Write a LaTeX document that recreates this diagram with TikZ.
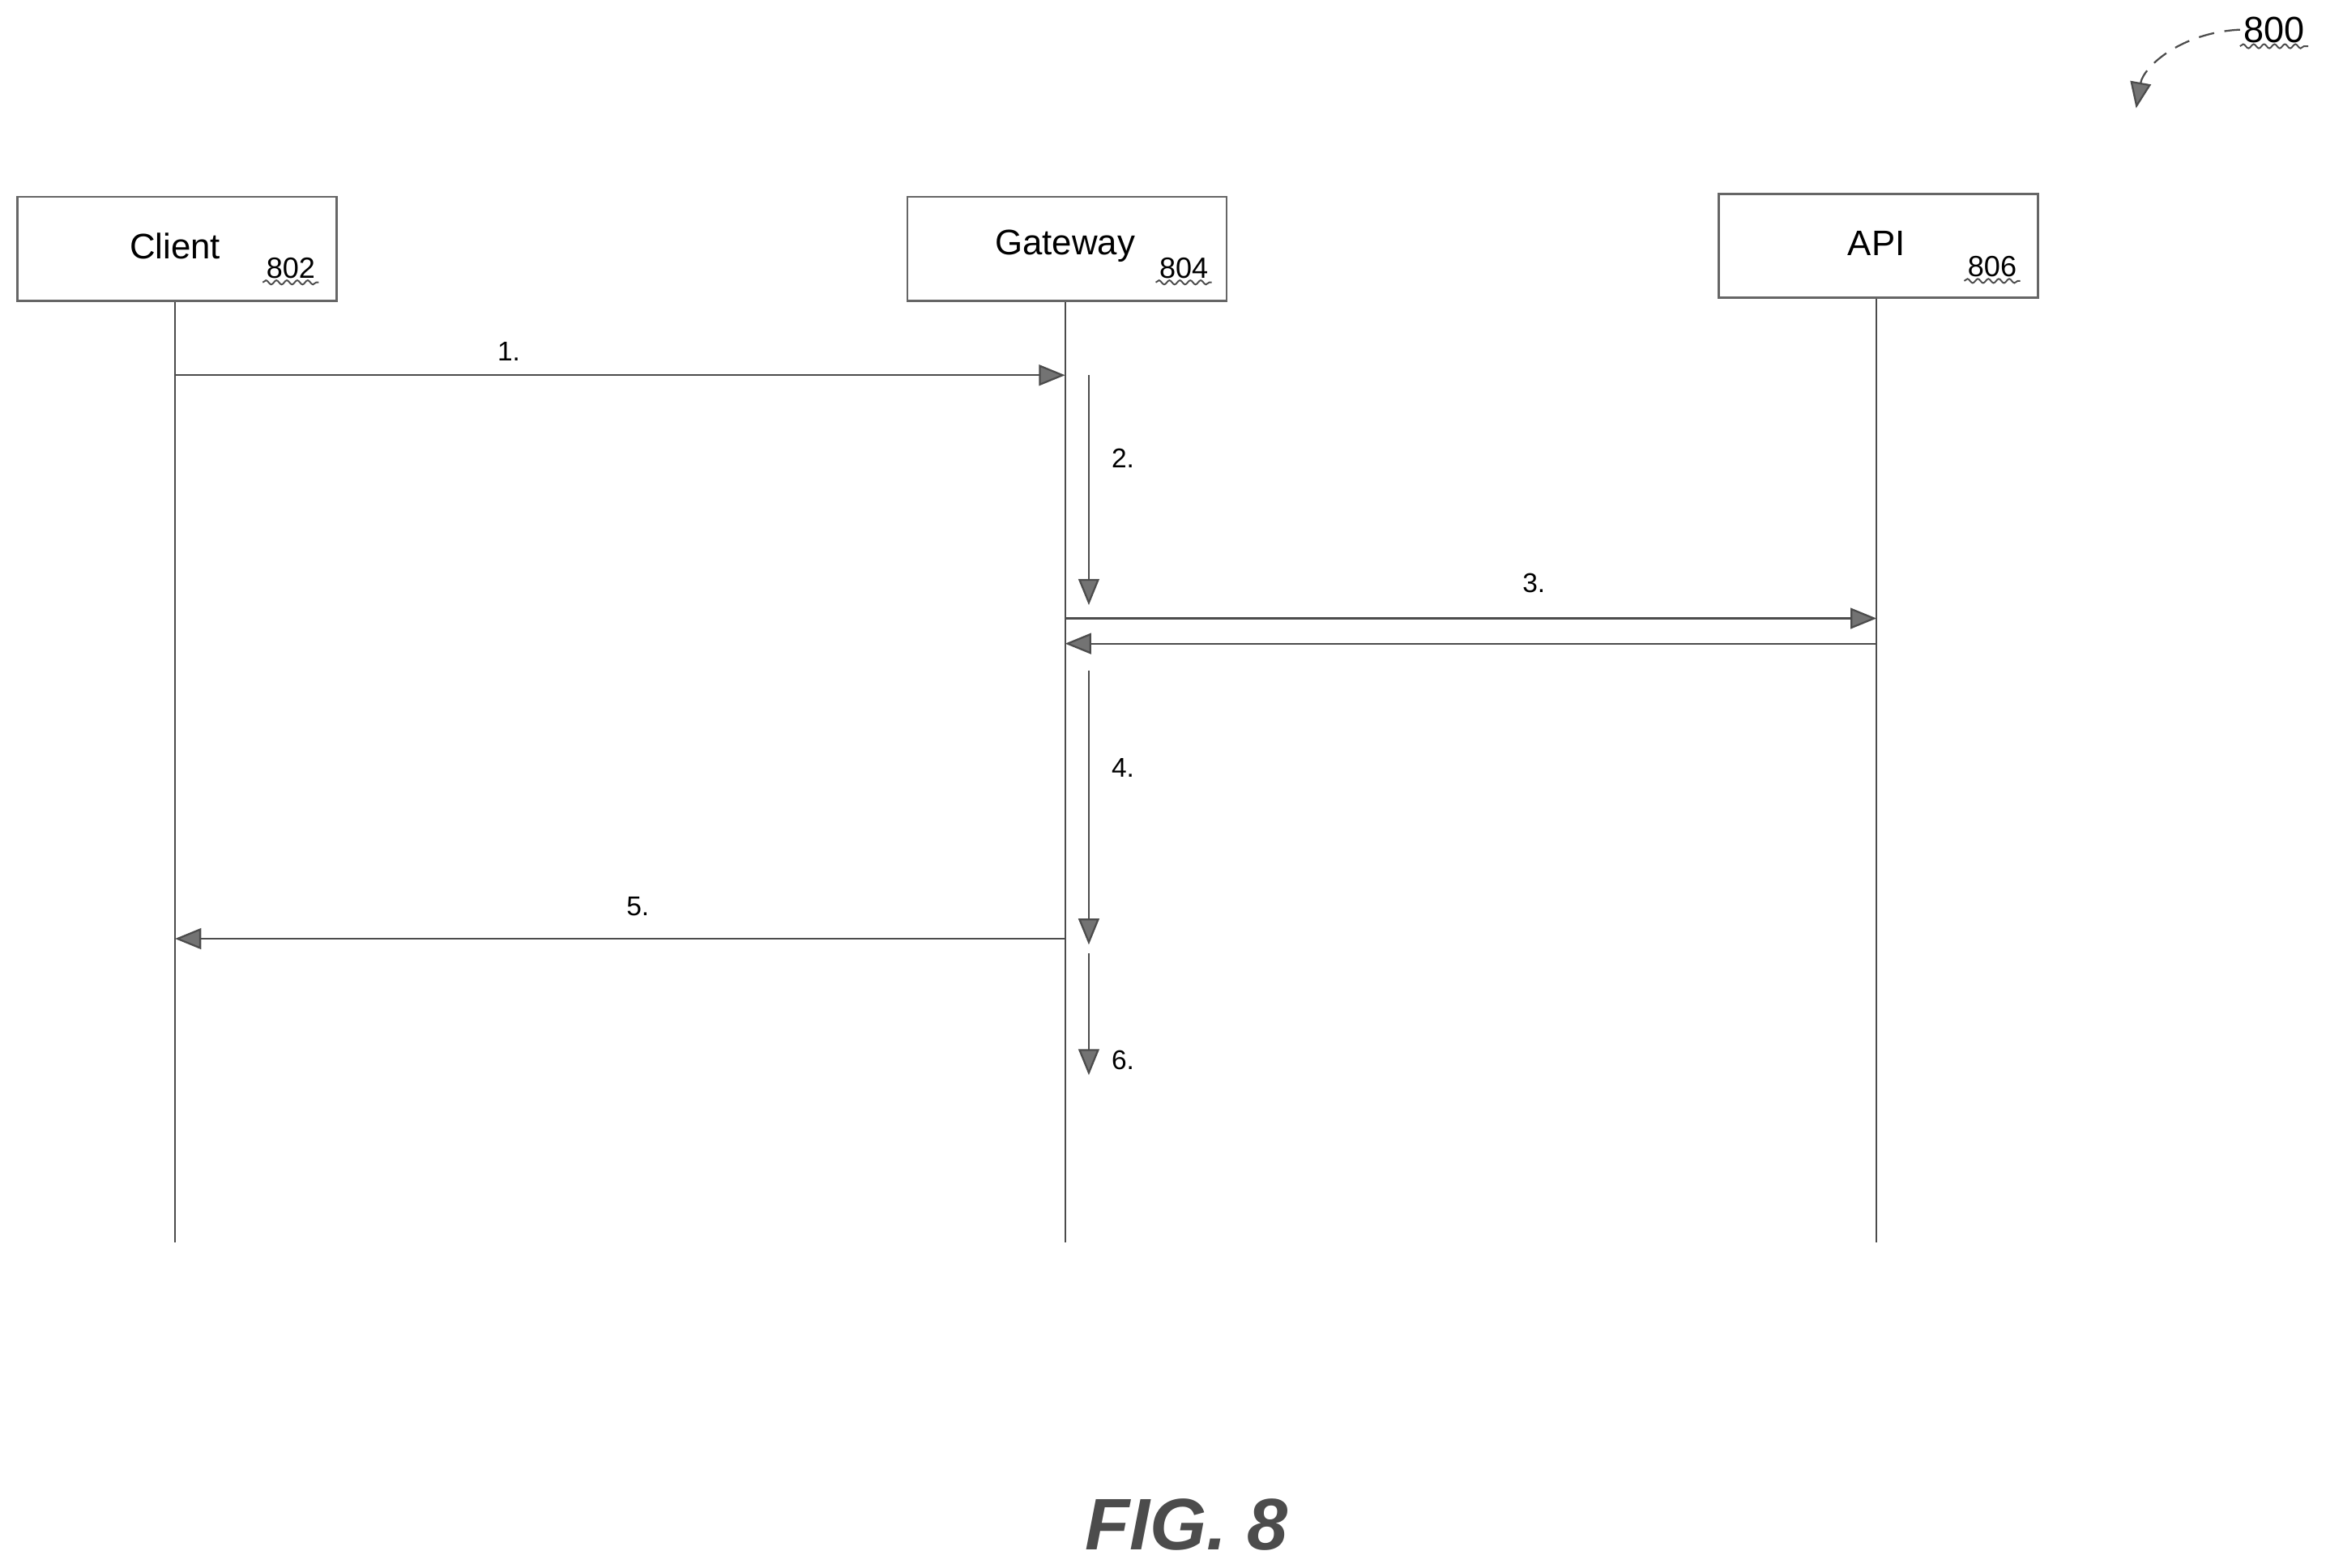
\documentclass[tikz,border=0pt]{standalone}
\usepackage{fontspec}
\setmainfont{Liberation Sans}
\usetikzlibrary{arrows.meta,decorations.pathmorphing}
\begin{document}
\begin{tikzpicture}[x=0.01cm,y=-0.01cm,
  box/.style={draw=black!60,minimum width=2.15cm,minimum height=0.7cm,inner sep=0,anchor=north west},
  ttl/.style={font=\fontsize{6.8pt}{8pt}\selectfont},
  ref/.style={font=\fontsize{5.6pt}{7pt}\selectfont,inner sep=0.5pt},
  wavy/.style={decorate,decoration={snake,amplitude=0.4pt,segment length=2pt},black!70,line width=0.3pt},
  lbl/.style={font=\fontsize{5.2pt}{6pt}\selectfont},
  life/.style={draw=black!70,line width=0.35pt},
  msg/.style={draw=black!70,line width=0.35pt,-{Triangle[length=5pt,width=4pt,fill=black!55]}}]
\useasboundingbox (0,0) rectangle (1568,1057);
% boxes
\node[box] (client) at (11,132) {};
\node[box] (gateway) at (611,132) {};
\node[box] (api) at (1158,130) {};
\node[ttl] (tc) at (118,166) {Client};
\node[ttl] (tg) at (718,166) {Gateway};
\node[ttl] (ta) at (1265,164) {API};
\node[ref] (r802) at (196,181) {802};
\node[ref] (r804) at (798,181) {804};
\node[ref] (r806) at (1343,180) {806};
\foreach \r in {r802,r804,r806} \draw[wavy] (\r.south west) -- (\r.south east);
% lifelines
\coordinate (cb) at (118,838); \coordinate (gb) at (718,838); \coordinate (ab) at (1265,838);
\draw[life] (client.south -| cb) -- (cb);
\draw[life] (gateway.south -| gb) -- (gb);
\draw[life] (api.south -| ab) -- (ab);
% messages
\coordinate (m1a) at (118,253); \coordinate (m1b) at (718,253);
\draw[msg] (m1a) -- (m1b);
\node[lbl] (l1) at (343,237) {1.};
\coordinate (m2a) at (734,253); \coordinate (m2b) at (734,408);
\draw[msg] (m2a) -- (m2b);
\node[lbl] (l2) at (757,309) {2.};
\coordinate (m3a) at (718,417); \coordinate (m3b) at (1265,417);
\draw[msg] (m3a) -- (m3b);
\node[lbl] (l3) at (1034,393) {3.};
\coordinate (m3c) at (1265,434); \coordinate (m3d) at (718,434);
\draw[msg] (m3c) -- (m3d);
\coordinate (m4a) at (734,452); \coordinate (m4b) at (734,637);
\draw[msg] (m4a) -- (m4b);
\node[lbl] (l4) at (757,518) {4.};
\coordinate (m5a) at (718,633); \coordinate (m5b) at (118,633);
\draw[msg] (m5a) -- (m5b);
\node[lbl] (l5) at (430,611) {5.};
\coordinate (m6a) at (734,643); \coordinate (m6b) at (734,725);
\draw[msg] (m6a) -- (m6b);
\node[lbl] (l6) at (757,715) {6.};
% figure ref
\node[font=\fontsize{7pt}{8pt}\selectfont,inner sep=0.5pt] (n800) at (1533,20) {800};
\draw[wavy] (n800.south west) -- (n800.south east);
\coordinate (p800) at (1440,73);
\draw[black!70,densely dashed,line width=0.35pt,-{Triangle[length=5pt,width=4pt,fill=black!55]}] (n800.west) .. controls (1470,22) and (1445,45) .. (p800);
\node[font=\fontsize{14pt}{16pt}\selectfont\bfseries\itshape,text=black!70] (fig) at (800,1028) {FIG. 8};
\end{tikzpicture}
\end{document}
